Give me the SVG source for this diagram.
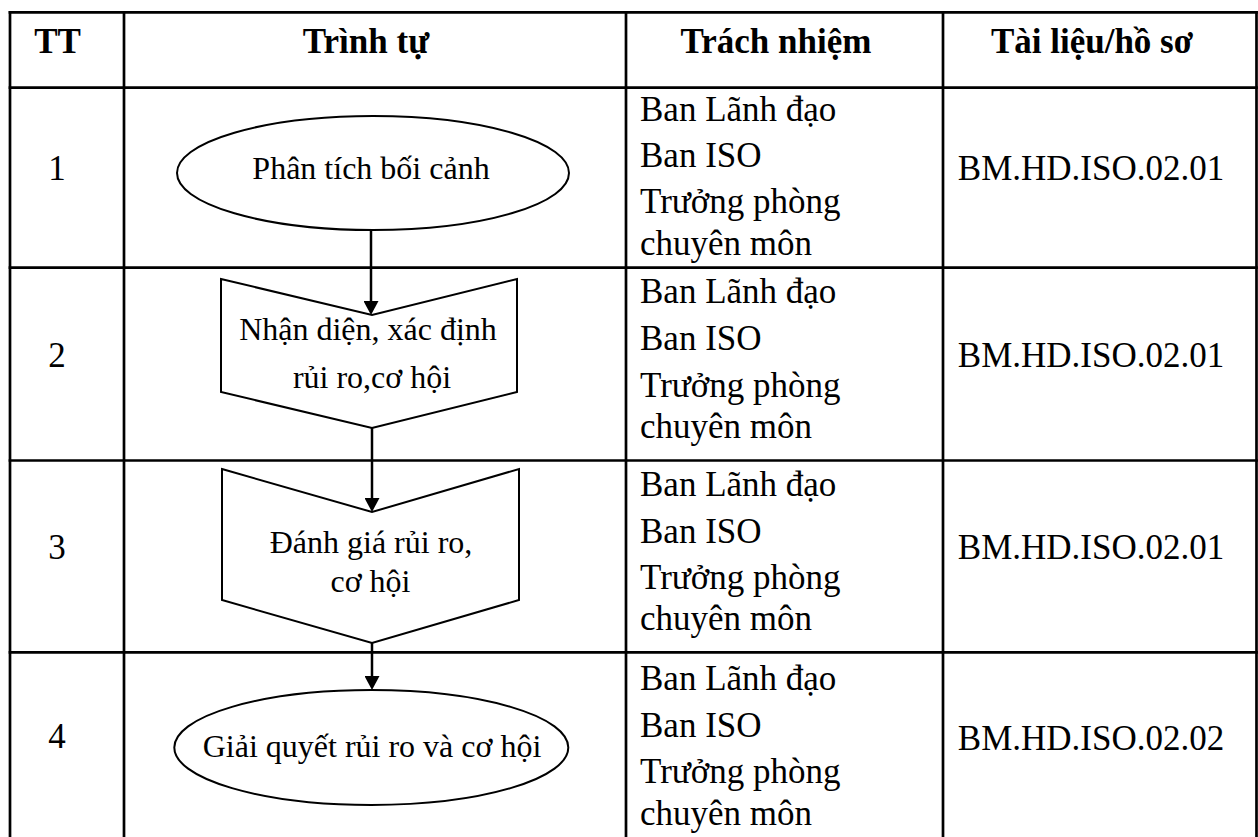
<svg xmlns="http://www.w3.org/2000/svg" width="1258" height="837" viewBox="0 0 1258 837">
<style>
.grid{stroke:#000;stroke-width:2.7;fill:none;stroke-linecap:square}
.shape{fill:#fff;stroke:#000;stroke-width:2}
.hdr{font-family:"Liberation Serif","Times New Roman",serif;font-weight:bold;font-size:35px;fill:#000;text-anchor:middle}
.cell{font-family:"Liberation Serif","Times New Roman",serif;font-size:35px;fill:#000}
.mid{text-anchor:middle}
.flow{font-family:"Liberation Serif","Times New Roman",serif;font-size:32px;fill:#000;text-anchor:middle}
.conn{stroke:#000;stroke-width:2.5;fill:none}
</style>
<defs>
<marker id="arrow" viewBox="0 0 14 15" refX="10" refY="7.5" markerWidth="14" markerHeight="15" orient="auto" markerUnits="userSpaceOnUse">
<path d="M0,0 L14,7.5 L0,15 Z" fill="#000"/>
</marker>
</defs>
<rect width="1258" height="837" fill="#fff"/>
<g id="table-grid" class="grid">
<line x1="10" y1="12.3" x2="1256.5" y2="12.3"/>
<line x1="10" y1="87.7" x2="1256.5" y2="87.7"/>
<line x1="10" y1="267.7" x2="1256.5" y2="267.7"/>
<line x1="10" y1="460.5" x2="1256.5" y2="460.5"/>
<line x1="10" y1="652.3" x2="1256.5" y2="652.3"/>
<line x1="10" y1="12.3" x2="10" y2="845"/>
<line x1="124" y1="12.3" x2="124" y2="845"/>
<line x1="626" y1="12.3" x2="626" y2="845"/>
<line x1="943" y1="12.3" x2="943" y2="845"/>
<line x1="1256.5" y1="12.3" x2="1256.5" y2="845"/>
</g>
<g id="header">
<text class="hdr" x="57.5" y="53.3">TT</text>
<text class="hdr" x="366" y="53.3">Trình tự</text>
<text class="hdr" x="776" y="53.3">Trách nhiệm</text>
<text class="hdr" x="1092" y="53.3">Tài liệu/hồ sơ</text>
</g>
<g id="row-numbers" class="cell mid">
<text x="57" y="180">1</text>
<text x="57" y="367">2</text>
<text x="57" y="559">3</text>
<text x="57" y="748">4</text>
</g>
<g id="responsibility" class="cell">
<text x="640" y="121">Ban Lãnh đạo</text>
<text x="640" y="167">Ban ISO</text>
<text x="640" y="213">Trưởng phòng</text>
<text x="640" y="255">chuyên môn</text>
<text x="640" y="302.7">Ban Lãnh đạo</text>
<text x="640" y="349.7">Ban ISO</text>
<text x="640" y="396.7">Trưởng phòng</text>
<text x="640" y="437.5">chuyên môn</text>
<text x="640" y="496">Ban Lãnh đạo</text>
<text x="640" y="542.5">Ban ISO</text>
<text x="640" y="589">Trưởng phòng</text>
<text x="640" y="630">chuyên môn</text>
<text x="640" y="690">Ban Lãnh đạo</text>
<text x="640" y="736.5">Ban ISO</text>
<text x="640" y="783">Trưởng phòng</text>
<text x="640" y="824.5">chuyên môn</text>
</g>
<g id="documents" class="cell mid">
<text x="1091" y="180">BM.HD.ISO.02.01</text>
<text x="1091" y="367">BM.HD.ISO.02.01</text>
<text x="1091" y="559">BM.HD.ISO.02.01</text>
<text x="1091" y="750">BM.HD.ISO.02.02</text>
</g>
<g id="node-1">
<ellipse class="shape" cx="373" cy="173" rx="196" ry="57"/>
<text class="flow" x="371" y="179">Phân tích bối cảnh</text>
</g>
<g id="node-2">
<polygon class="shape" points="221,279 372,315 517,279 517,392 372,428 221,392"/>
<text class="flow" x="368" y="340">Nhận diện, xác định</text>
<text class="flow" x="372" y="387.7">rủi ro,cơ hội</text>
</g>
<g id="node-3">
<polygon class="shape" points="222,469 372,512 519,469 519,600 372,643 222,600"/>
<text class="flow" x="371" y="553">Đánh giá rủi ro,</text>
<text class="flow" x="370.5" y="591.7">cơ hội</text>
</g>
<g id="node-4">
<ellipse class="shape" cx="371.3" cy="747.5" rx="197" ry="57.5"/>
<text class="flow" x="372" y="756.7">Giải quyết rủi ro và cơ hội</text>
</g>
<g id="connectors" class="conn">
<path d="M371,230 L371,311" marker-end="url(#arrow)"/>
<path d="M372,428 L372,508" marker-end="url(#arrow)"/>
<path d="M372,643 L372,686" marker-end="url(#arrow)"/>
</g>
</svg>
